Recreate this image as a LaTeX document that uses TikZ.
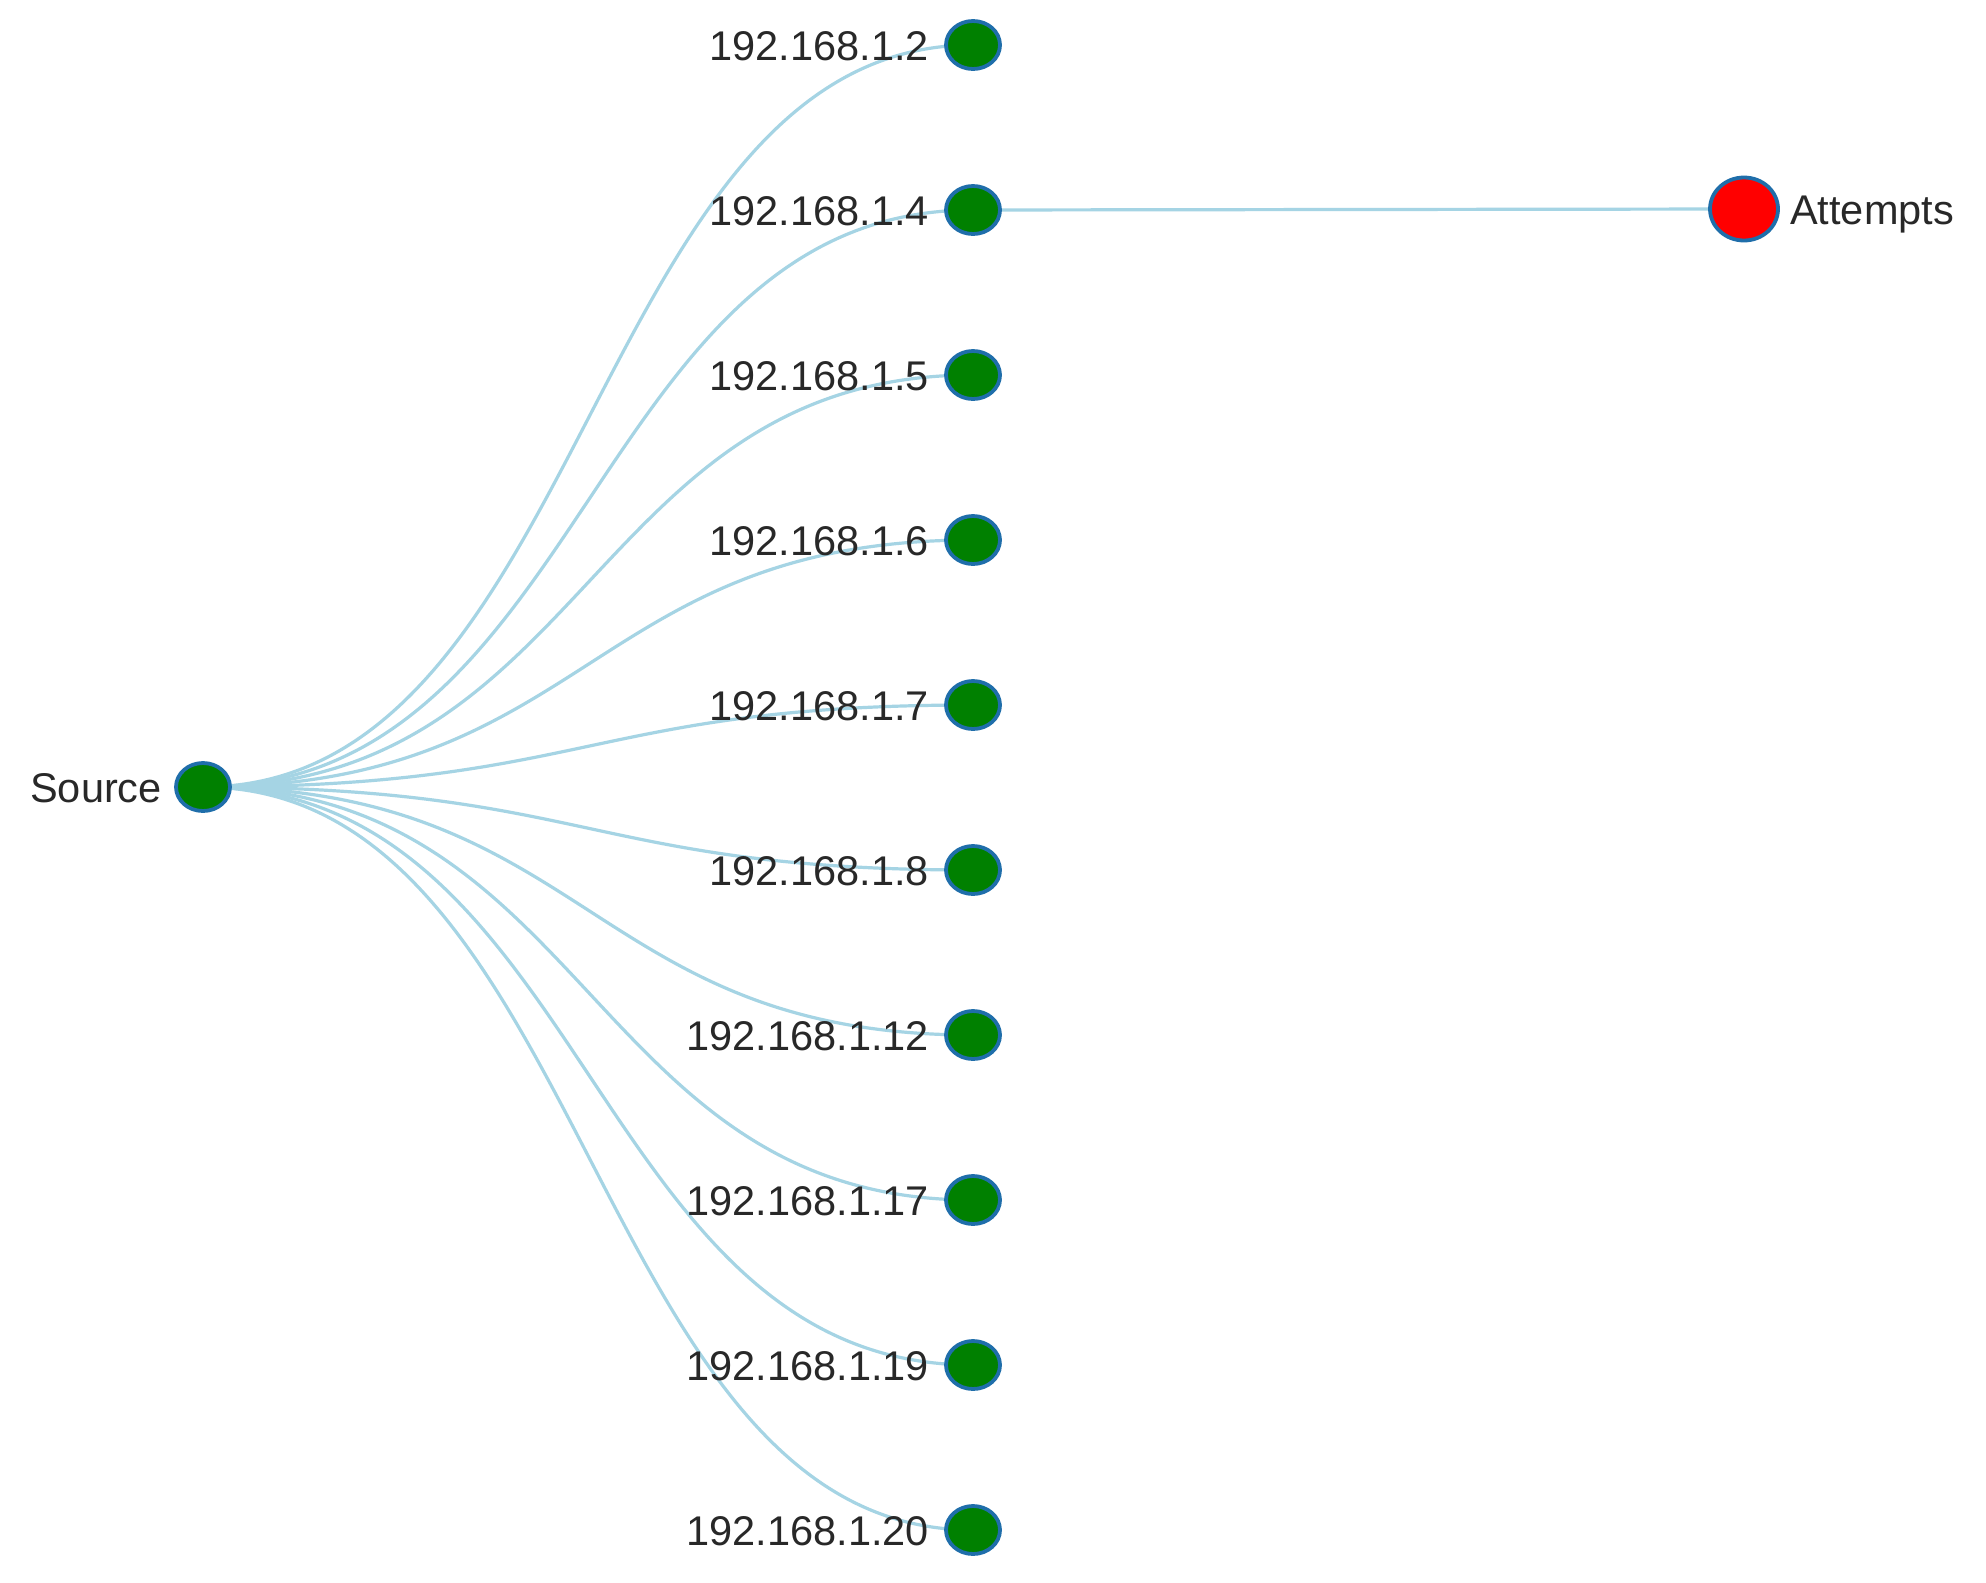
\documentclass[tikz,border=0pt]{standalone}
\usepackage{fontspec}
\setmainfont{Liberation Sans}
\usetikzlibrary{shapes.geometric,calc}
\definecolor{edgeblue}{RGB}{165,212,228}
\definecolor{ringblue}{RGB}{31,110,170}
\definecolor{nodegreen}{RGB}{0,128,0}
\definecolor{txtgray}{RGB}{40,40,40}
\tikzset{
  edge/.style={draw=edgeblue, line width=3.2pt},
  gnode/.style={ellipse, draw=ringblue, line width=3.8pt, fill=nodegreen, minimum width=54pt, minimum height=48pt, inner sep=0pt},
  rnode/.style={ellipse, draw=ringblue, line width=3.8pt, fill=red, minimum width=68pt, minimum height=63pt, inner sep=0pt},
  lbl/.style={text=txtgray, font=\fontsize{41.5}{46}\selectfont, inner sep=0pt},
}
\begin{document}
\begin{tikzpicture}[x=1pt,y=-1pt]
\useasboundingbox (0,0) rectangle (1986,1582);
\fill[white] (0,0) rectangle (1986,1582);
% coordinates
\coordinate (psrc) at (203,787);
\foreach \i/\n in {0/2,1/4,2/5,3/6,4/7,5/8,6/12,7/17,8/19,9/20}{
  \coordinate (p\n) at (973,{45+165*\i});
}
\coordinate (patt) at (1744,209);
\coordinate (cx) at (590,0);
% edges
\foreach \n in {2,4,5,6,7,8,12,17,19,20}{
  \draw[edge] (psrc) .. controls (psrc -| cx) and (p\n -| cx) .. (p\n);
}
\draw[edge] (p4) -- (patt);
% nodes
\node[gnode] (src) at (psrc) {};
\node[lbl, anchor=base east] (srcl) at (162,802) {Source};
\foreach \n in {2,4,5,6,7,8,12,17,19,20}{
  \node[gnode] (n\n) at (p\n) {};
  \node[lbl, anchor=base east] (l\n) at ($(p\n)+(-44,15)$) {192.168.1.\n};
}
\node[rnode] (att) at (patt) {};
\node[lbl, anchor=base west] (attl) at (1790,224) {Attempts};
\end{tikzpicture}
\end{document}
